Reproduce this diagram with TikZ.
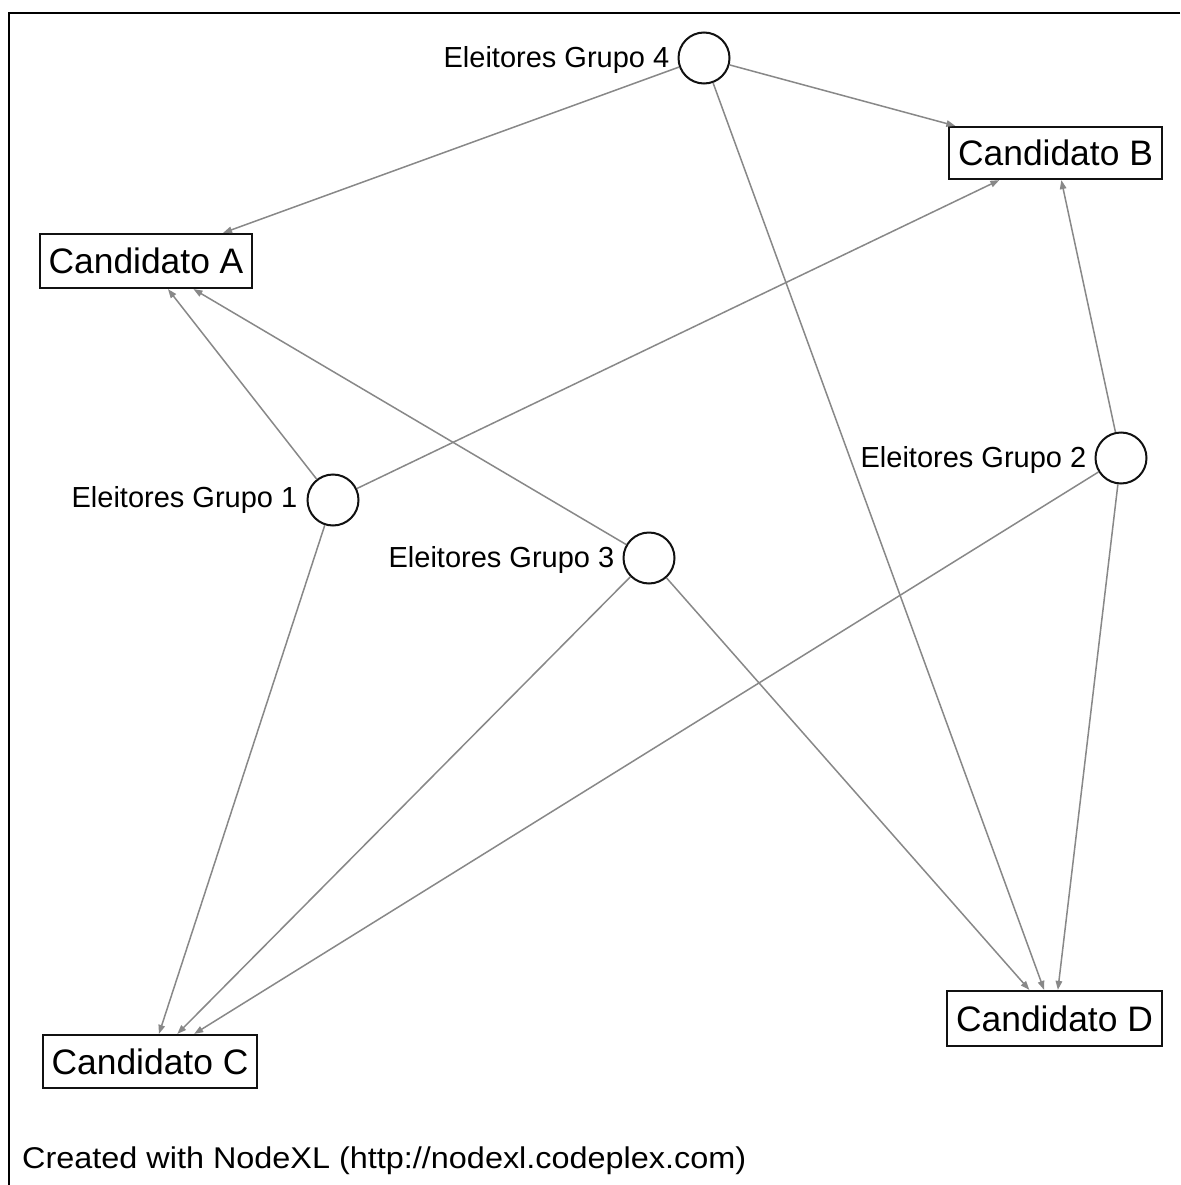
\documentclass[tikz,border=0pt]{standalone}
\usepackage{fontspec}
\setmainfont{Liberation Sans}
\newfontfamily\footfont[FakeStretch=1.08]{Liberation Sans}
\usetikzlibrary{arrows.meta}
\definecolor{edgegray}{HTML}{888888}
\definecolor{inkdark}{HTML}{111111}
\tikzset{
  voter/.style={circle, draw=inkdark, line width=2pt, minimum size=51pt, inner sep=0pt, fill=white},
  voterlabel/.style={font=\fontsize{29}{32}\selectfont, text=black, inner sep=0pt},
  candidate/.style={rectangle, draw=inkdark, line width=2.2pt, minimum width=213pt, minimum height=53pt,
    inner sep=0pt, fill=white, font=\fontsize{35.4}{40}\selectfont, text=black},
  link/.style={draw=edgegray, line width=1.5pt, -{Triangle[length=9pt,width=6.5pt]}}
}
\begin{document}
\begin{tikzpicture}[x=1pt,y=-1pt]
  \useasboundingbox (0,0) rectangle (1180,1185);
  \fill[white] (0,0) rectangle (1180,1185);

  % frame (top and left edges visible)
  \coordinate (frameTR) at (1180,13);
  \coordinate (frameTL) at (9,13);
  \coordinate (frameBL) at (9,1185);
  \draw[black, line width=2pt] (frameTR) -- (frameTL) -- (frameBL);

  % candidates
  \node[candidate, minimum width=212pt, minimum height=54pt] (ca) at (146,261) {Candidato A};
  \node[candidate, minimum height=52pt] (cb) at (1055.5,153) {Candidato B};
  \node[candidate, minimum width=214pt] (cc) at (150,1061.5) {Candidato C};
  \node[candidate, minimum width=215pt, minimum height=55pt] (cd) at (1054.5,1018.5) {Candidato D};

  % voter groups
  \node[voter] (g4) at (704,58) {};
  \node[voter] (g1) at (333,500) {};
  \node[voter] (g3) at (649,558) {};
  \node[voter] (g2) at (1121,458) {};

  \node[voterlabel, anchor=east] (l4) at ([xshift=-8pt,yshift=-2pt]g4.west) {Eleitores Grupo 4};
  \node[voterlabel, anchor=east] (l1) at ([xshift=-9pt]g1.west) {Eleitores Grupo 1};
  \node[voterlabel, anchor=east] (l3) at ([xshift=-8pt,yshift=-2pt]g3.west) {Eleitores Grupo 3};
  \node[voterlabel, anchor=east] (l2) at ([xshift=-8pt,yshift=-2pt]g2.west) {Eleitores Grupo 2};

  % edges from voter groups to candidates
  \draw[link] (g4) -- (ca);
  \draw[link] (g4) -- (cb);
  \draw[link] (g4) -- (cd);
  \draw[link] (g1) -- (ca);
  \draw[link] (g1) -- (cb);
  \draw[link] (g1) -- (cc);
  \draw[link] (g3) -- (ca);
  \draw[link] (g3) -- (cc);
  \draw[link] (g3) -- (cd);
  \draw[link] (g2) -- (cb);
  \draw[link] (g2) -- (cc);
  \draw[link] (g2) -- (cd);

  % footer
  \node[anchor=base west, inner sep=0pt, text=black, font=\footfont\fontsize{30}{34}\selectfont]
    (credit) at (22,1168) {Created with NodeXL (http://nodexl.codeplex.com)};
\end{tikzpicture}
\end{document}
